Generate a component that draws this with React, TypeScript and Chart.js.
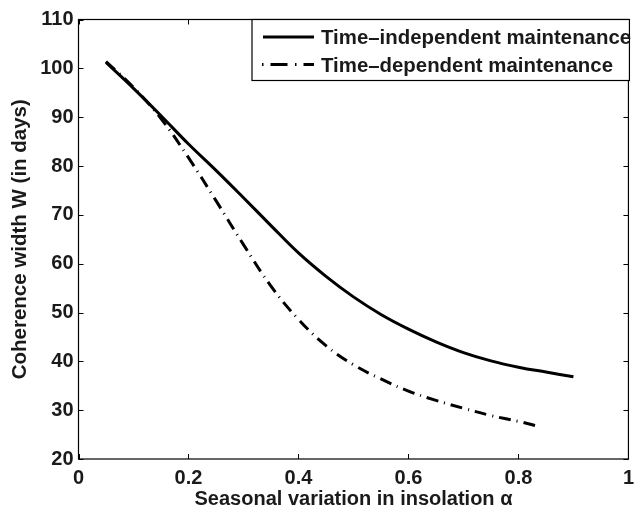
import React, { useEffect, useRef } from "react";
import { Chart, registerables } from "chart.js";

Chart.register(...registerables);

const alphaSolid = [0.05, 0.1, 0.15, 0.2, 0.25, 0.3, 0.35, 0.4, 0.45, 0.5, 0.55, 0.6, 0.65, 0.7, 0.75, 0.8, 0.85, 0.9];
const widthSolid = [101.2, 95.9, 90.3, 84.5, 79.1, 73.5, 67.8, 62.2, 57.4, 53.2, 49.6, 46.6, 44.0, 41.8, 40.1, 38.8, 37.8, 36.85];

const alphaDashed = [0.05, 0.1, 0.15, 0.2, 0.25, 0.3, 0.35, 0.4, 0.45, 0.5, 0.55, 0.6, 0.65, 0.7, 0.75, 0.8, 0.84];
const widthDashed = [101.4, 96.1, 89.7, 81.7, 72.9, 63.9, 55.4, 48.6, 43.2, 39.3, 36.4, 33.9, 32.0, 30.4, 28.9, 27.7, 26.6];

const seriesLabels = ["Time\u2013independent maintenance", "Time\u2013dependent maintenance"];
const xTickValues = [0, 0.2, 0.4, 0.6, 0.8, 1];
const yTickValues = [20, 30, 40, 50, 60, 70, 80, 90, 100, 110];
const xTitle = "Seasonal variation in insolation \u03B1";
const yTitle = "Coherence width W (in days)";

const FONT = '"Liberation Sans", Arial, Helvetica, sans-serif';
const DASH = [12, 6, 1, 6];

const framePlugin = {
  id: "matlabFrame",
  afterDraw(chart: any) {
    const { ctx, chartArea } = chart;
    const { left, right, top, bottom } = chartArea;
    const xs = chart.scales.x;
    const ys = chart.scales.y;
    ctx.save();
    ctx.strokeStyle = "#000";
    ctx.lineWidth = 1.2;
    ctx.setLineDash([]);
    ctx.strokeRect(left, top, right - left, bottom - top);
    const tl = 5;
    ctx.lineWidth = 1;
    ctx.beginPath();
    xTickValues.forEach((v) => {
      const px = Math.round(xs.getPixelForValue(v)) + 0.5;
      ctx.moveTo(px, bottom);
      ctx.lineTo(px, bottom - tl);
      ctx.moveTo(px, top);
      ctx.lineTo(px, top + tl);
    });
    yTickValues.forEach((v) => {
      const py = Math.round(ys.getPixelForValue(v)) + 0.5;
      ctx.moveTo(left, py);
      ctx.lineTo(left + tl, py);
      ctx.moveTo(right, py);
      ctx.lineTo(right - tl, py);
    });
    ctx.stroke();

    // legend
    const lx0 = 252, ly0 = top, lx1 = right + 1, ly1 = 80.5;
    ctx.fillStyle = "#fff";
    ctx.fillRect(lx0, ly0, lx1 - lx0, ly1 - ly0);
    ctx.lineWidth = 1.2;
    ctx.strokeStyle = "#000";
    ctx.strokeRect(lx0, ly0, lx1 - lx0, ly1 - ly0);

    ctx.lineWidth = 3;
    ctx.lineCap = "butt";
    ctx.beginPath();
    ctx.moveTo(263, 37);
    ctx.lineTo(314, 37);
    ctx.stroke();
    ctx.setLineDash([1.5, 7, 17, 7.5]);
    ctx.beginPath();
    ctx.moveTo(262, 64.5);
    ctx.lineTo(314, 64.5);
    ctx.stroke();
    ctx.setLineDash([]);

    ctx.fillStyle = "#1a1a1a";
    ctx.font = `bold 20.4px ${FONT}`;
    ctx.textAlign = "left";
    ctx.textBaseline = "alphabetic";
    ctx.fillText(seriesLabels[0], 321, 44.3);
    ctx.fillText(seriesLabels[1], 321, 72.3);
    ctx.restore();
  },
};

export default function App() {
  const ref = useRef<HTMLCanvasElement | null>(null);
  useEffect(() => {
    if (!ref.current) return;
    const chart = new Chart(ref.current, {
      type: "line",
      data: {
        datasets: [
          {
            label: seriesLabels[0],
            data: alphaSolid.map((a, i) => ({ x: a, y: widthSolid[i] })),
            borderColor: "#000",
            borderWidth: 3,
            pointRadius: 0,
            tension: 0.4,
            fill: false,
          },
          {
            label: seriesLabels[1],
            data: alphaDashed.map((a, i) => ({ x: a, y: widthDashed[i] })),
            borderColor: "#000",
            borderWidth: 3,
            borderDash: DASH,
            pointRadius: 0,
            tension: 0.4,
            fill: false,
          },
        ],
      },
      options: {
        responsive: false,
        animation: false,
        devicePixelRatio: 1,
        layout: { padding: { left: 0, top: 19.5, right: 5, bottom: 0 }, autoPadding: false },
        plugins: { legend: { display: false }, tooltip: { enabled: false } },
        scales: {
          x: {
            type: "linear",
            min: 0,
            max: 1,
            afterFit: (s: any) => { s.height = 52; },
            afterBuildTicks: (s: any) => { s.ticks = xTickValues.map((v) => ({ value: v })); },
            grid: { display: false, drawTicks: false },
            border: { display: false },
            ticks: {
              padding: 7,
              color: "#1a1a1a",
              font: { family: FONT, size: 20, weight: "bold" },
              callback: (v: any) => String(Number(Number(v).toFixed(1))),
              maxRotation: 0,
              autoSkip: false,
            },
            title: {
              display: true,
              text: xTitle,
              color: "#1a1a1a",
              font: { family: FONT, size: 20, weight: "bold" },
              padding: { top: 0, bottom: 0 },
            },
          },
          y: {
            type: "linear",
            min: 20,
            max: 110,
            afterFit: (s: any) => { s.width = 78.5; },
            afterBuildTicks: (s: any) => { s.ticks = yTickValues.map((v) => ({ value: v })); },
            grid: { display: false, drawTicks: false },
            border: { display: false },
            ticks: {
              padding: 5,
              color: "#1a1a1a",
              font: { family: FONT, size: 20, weight: "bold" },
              autoSkip: false,
            },
            title: {
              display: true,
              text: yTitle,
              color: "#1a1a1a",
              font: { family: FONT, size: 20.5, weight: "bold" },
              padding: { top: 8, bottom: 0 },
            },
          },
        },
      },
      plugins: [framePlugin],
    } as any);
    return () => chart.destroy();
  }, []);
  return (
    <div style={{ position: "absolute", left: 0, top: 0, width: 641, height: 511, background: "#fff" }}>
      <canvas ref={ref} width={641} height={511} style={{ width: 641, height: 511, display: "block" }} />
    </div>
  );
}
